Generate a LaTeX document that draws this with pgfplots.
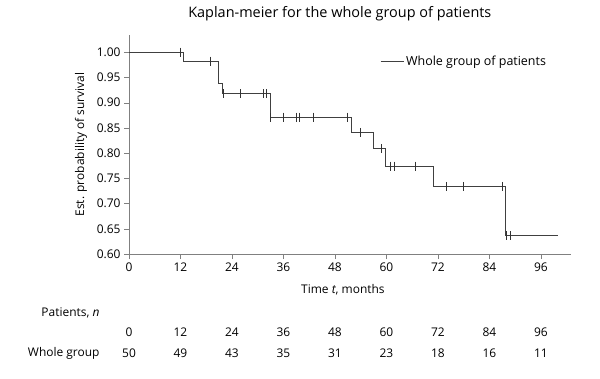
\documentclass[border=0pt]{standalone}
\usepackage{pgfplots}
\pgfplotsset{compat=1.18}
\usepackage{fontspec}
\setmainfont{Open Sans}
\newcommand{\tfont}{\fontsize{12}{14}\selectfont}
\begin{document}
\begin{tikzpicture}
\path (0,0) rectangle (600bp,379bp);
\begin{axis}[
  at={(129bp,125bp)}, anchor=south west,
  scale only axis, width=442bp, height=219bp,
  xmin=0, xmax=103, ymin=0.6, ymax=1.034,
  axis lines=left, axis line style={-, draw=black!50},
  tick align=outside, tick style={draw=black!50}, major tick length=5bp,
  xtick={0,12,24,36,48,60,72,84,96},
  ytick={0.60,0.65,0.70,0.75,0.80,0.85,0.90,0.95,1.00},
  /pgf/number format/assume math mode=true,
  yticklabel style={/pgf/number format/.cd, fixed, fixed zerofill, precision=2},
  ticklabel style={font=\tfont, text=black},
  xlabel={Time \textit{t}, months},
  xlabel style={at={(axis description cs:0.484,0)}, anchor=center, yshift=-36bp, font=\tfont},
  ylabel={Est. probability of survival},
  ylabel style={at={(axis description cs:-0.1086,0.5)}, anchor=center, font=\tfont},
  title={Kaplan-meier for the whole group of patients},
  title style={at={(axis description cs:0.477,1)}, anchor=center, yshift=15bp, font=\fontsize{14.5}{16}\selectfont},
  legend style={draw=none, fill=none, at={(axis description cs:0.561,0.877)}, anchor=west, font=\fontsize{12.5}{14}\selectfont},
  legend cell align=left,
  legend image code/.code={\draw[#1] (0bp,0bp) -- (23bp,0bp);},
  clip=false,
]
\addplot[const plot, black!75, line width=1pt] coordinates {
  (0,1.000) (12.8,0.982) (20.9,0.938) (21.9,0.918) (33.0,0.871)
  (51.8,0.841) (56.9,0.809) (59.8,0.774) (70.9,0.734) (87.8,0.636) (99.9,0.636)
};
\addlegendentry{Whole group of patients}
\addplot[only marks, mark=|, mark size=4.5bp, black!80, mark options={line width=0.7pt}, forget plot] coordinates {
  (12.0,1.000) (19.0,0.982) (21.9,0.918) (26.0,0.918) (31.2,0.918) (31.9,0.918)
  (33.0,0.871) (35.9,0.871) (39.0,0.871) (39.6,0.871) (42.9,0.871) (50.9,0.871)
  (53.8,0.841) (58.9,0.809) (60.9,0.774) (61.8,0.774) (66.8,0.774)
  (74.0,0.734) (77.9,0.734) (86.9,0.734) (88.0,0.636) (88.9,0.636)
};
% risk table
\node[anchor=east, font=\tfont] at (axis cs:-6.06,0.4831) {Patients, \textit{n}};
\node[anchor=east, font=\tfont] at (axis cs:-6.06,0.4038) {Whole group};
\node[font=\tfont] at (axis cs:0,0.4454) {0};
\node[font=\tfont] at (axis cs:12,0.4454) {12};
\node[font=\tfont] at (axis cs:24,0.4454) {24};
\node[font=\tfont] at (axis cs:36,0.4454) {36};
\node[font=\tfont] at (axis cs:48,0.4454) {48};
\node[font=\tfont] at (axis cs:60,0.4454) {60};
\node[font=\tfont] at (axis cs:72,0.4454) {72};
\node[font=\tfont] at (axis cs:84,0.4454) {84};
\node[font=\tfont] at (axis cs:96,0.4454) {96};
\node[font=\tfont] at (axis cs:0,0.4038) {50};
\node[font=\tfont] at (axis cs:12,0.4038) {49};
\node[font=\tfont] at (axis cs:24,0.4038) {43};
\node[font=\tfont] at (axis cs:36,0.4038) {35};
\node[font=\tfont] at (axis cs:48,0.4038) {31};
\node[font=\tfont] at (axis cs:60,0.4038) {23};
\node[font=\tfont] at (axis cs:72,0.4038) {18};
\node[font=\tfont] at (axis cs:84,0.4038) {16};
\node[font=\tfont] at (axis cs:96,0.4038) {11};
\end{axis}
\end{tikzpicture}
\end{document}
